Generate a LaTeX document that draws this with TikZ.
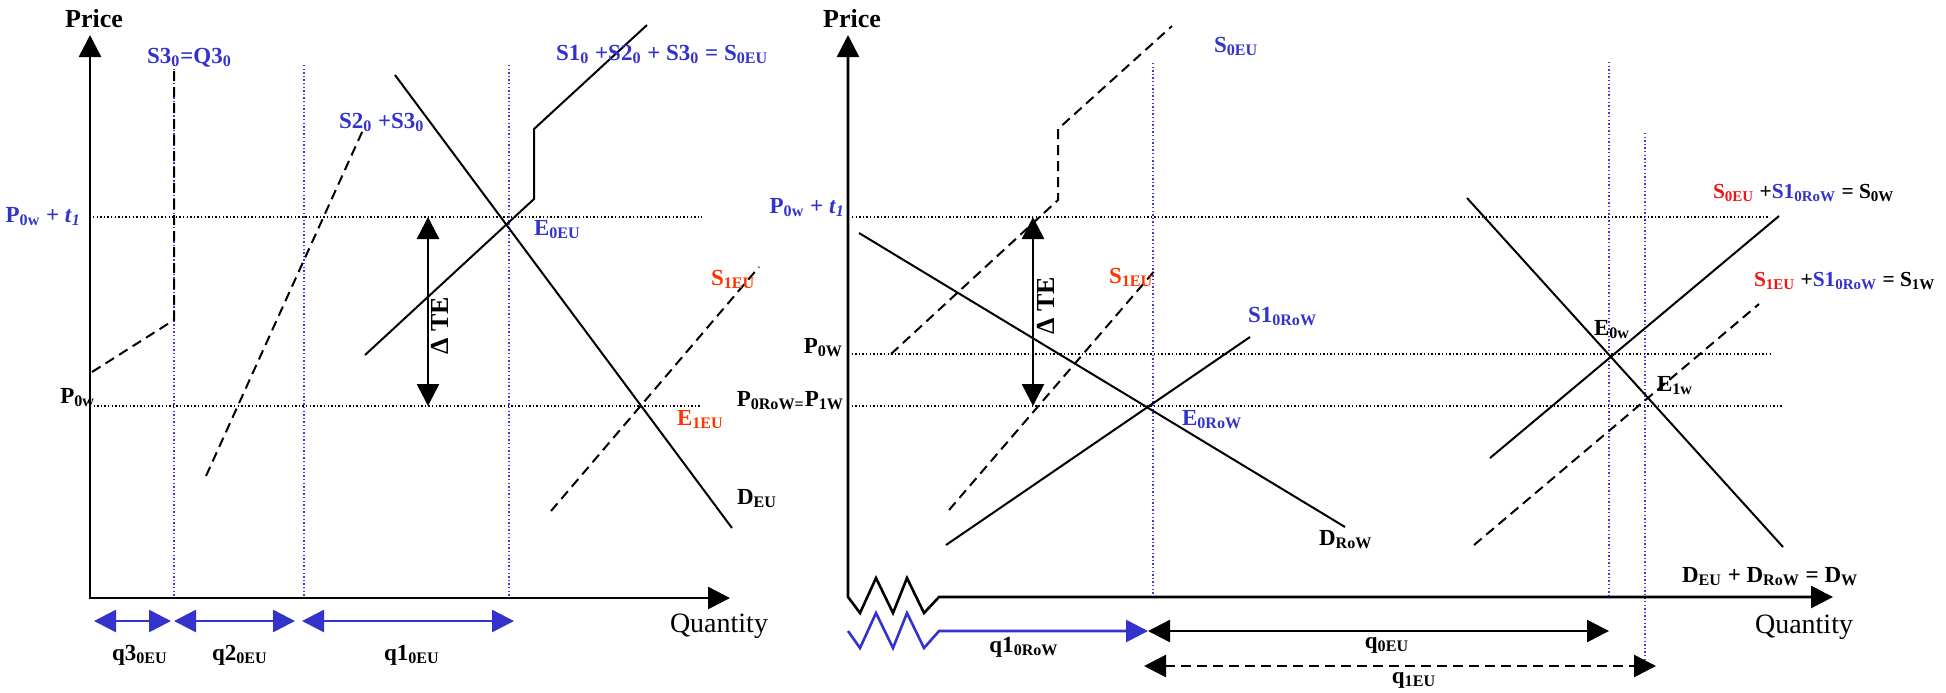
\documentclass[tikz,border=0pt]{standalone}
\usepackage{fontspec}
\setmainfont{Liberation Serif}
\usetikzlibrary{arrows.meta}
\definecolor{qblue}{RGB}{51,51,204}
\definecolor{tred}{RGB}{255,51,0}
\definecolor{wred}{RGB}{240,20,20}
\definecolor{vblue}{RGB}{60,60,235}
\newcommand{\lo}[1]{\textsubscript{#1}}
\begin{document}
\begin{tikzpicture}[x=0.5pt,y=-0.5pt,line width=1pt,
  >={Triangle[length=11pt,width=11pt]},
  lbl/.style={font=\fontsize{11.5}{13}\selectfont\bfseries,inner sep=0pt},
  sml/.style={font=\fontsize{10.7}{12}\selectfont\bfseries,inner sep=0pt},
  big/.style={font=\fontsize{13}{15}\selectfont\bfseries,inner sep=0pt},
  qty/.style={font=\fontsize{14}{16}\selectfont,inner sep=0pt},
  axis/.style={line width=1.3pt,<->},
  curve/.style={line width=1pt},
  dcurve/.style={line width=1pt,dash pattern=on 5pt off 3pt},
  pline/.style={line width=0.7pt,dash pattern=on 0.7pt off 1.1pt},
  qline/.style={vblue,line width=0.7pt,dash pattern=on 0.7pt off 1.1pt},
  qarrow/.style={qblue,line width=1.3pt,<->}]
  \useasboundingbox (0,0) rectangle (1946,692);

  % ---- left panel: EU market
  \coordinate (lo) at (90,598);
  \coordinate (ltop) at (90,35);
  \coordinate (lend) at (730,598);
  \foreach \x in {174,304,509} \draw[qline] (\x,65) -- (\x,598);
  \draw[pline] (93,217) -- (702,217);
  \draw[pline] (90,406) -- (701,406);
  \draw[axis] (ltop) -- (lo) -- (lend);
  \draw[dcurve] (92,372) -- (174,320) -- (174,67);
  \draw[dcurve] (206,476) -- (363,130);
  \draw[curve] (365,355) -- (534,199) -- (534,129) -- (647,25);
  \draw[curve] (395,75) -- (732,528);
  \draw[dcurve] (551,511) -- (759,267);
  \coordinate (teltop) at (428,217);
  \coordinate (telbot) at (428,406);
  \draw[line width=1.3pt,<->] (teltop) -- (telbot);
  \coordinate (q3a) at (94,621);  \coordinate (q3b) at (171,621);
  \coordinate (q2a) at (174,621); \coordinate (q2b) at (295,621);
  \coordinate (q1a) at (302,621); \coordinate (q1b) at (514,621);
  \draw[qarrow] (q3a) -- (q3b);
  \draw[qarrow] (q2a) -- (q2b);
  \draw[qarrow] (q1a) -- (q1b);

  \node[big,anchor=base] (lprice) at (94,27) {Price};
  \node[lbl,anchor=base east,text=qblue] (lptax) at (82,222) {P\lo{0w} + \textit{t}\lo{\textit{1}}};
  \node[lbl,anchor=base east] (lpw) at (96,403) {P\lo{0w}};
  \node[lbl,anchor=base west,text=qblue] (ls3) at (146,63) {S3\lo{0}=Q3\lo{0}};
  \node[lbl,anchor=base west,text=qblue] (ls23) at (338,128) {S2\lo{0} +S3\lo{0}};
  \node[lbl,anchor=base west,text=qblue] (ls0eu) at (555,60) {S1\lo{0} +S2\lo{0} + S3\lo{0} = S\lo{0EU}};
  \node[lbl,anchor=base west,text=qblue] (le0eu) at (533,235) {E\lo{0EU}};
  \node[lbl,anchor=base west,text=tred] (ls1eu) at (710,285) {S\lo{1EU}};
  \node[lbl,anchor=base west,text=tred] (le1eu) at (676,425) {E\lo{1EU}};
  \node[lbl,anchor=base west] (ldeu) at (736,504) {D\lo{EU}};
  \node[big,rotate=90] (ldte) at (440,326) {Δ TE};
  \node[lbl,anchor=base] (lq3) at (140,660) {q3\lo{0EU}};
  \node[lbl,anchor=base] (lq2) at (240,660) {q2\lo{0EU}};
  \node[lbl,anchor=base] (lq1) at (412,660) {q1\lo{0EU}};
  \node[qty,anchor=base] (lqty) at (719,632) {Quantity};

  % ---- right panel: world market
  \coordinate (ro) at (848,597);
  \coordinate (rtop) at (848,35);
  \coordinate (rend) at (1833,597);
  \draw[qline] (1153,63) -- (1153,597);
  \draw[qline] (1609,62) -- (1609,597);
  \draw[qline] (1645,133) -- (1645,667);
  \draw[pline] (852,217) -- (1770,217);
  \draw[pline] (848,354) -- (1770,354);
  \draw[pline] (848,406) -- (1782,406);
  \draw[axis] (rtop) -- (ro) -- (860,613) -- (876,578) -- (893,613) -- (907,578)
    -- (924,613) -- (939,597) -- (rend);
  \draw[dcurve] (891,354) -- (1058,200) -- (1058,129) -- (1172,26);
  \draw[dcurve] (949,510) -- (1157,268);
  \draw[curve] (859,233) -- (1345,527);
  \draw[curve] (946,545) -- (1250,337);
  \draw[curve] (1467,198) -- (1783,547);
  \draw[curve] (1490,458) -- (1779,216);
  \draw[dcurve] (1474,545) -- (1759,304);
  \coordinate (tertop) at (1033,217);
  \coordinate (terbot) at (1033,406);
  \draw[line width=1.3pt,<->] (tertop) -- (terbot);
  \coordinate (zq) at (848,631);
  \coordinate (q0a) at (1148,631);
  \coordinate (q0b) at (1609,631);
  \coordinate (q1ea) at (1144,666);
  \coordinate (q1eb) at (1656,666);
  \draw[qblue,line width=1.3pt,->] (zq) -- (860,648) -- (876,613) -- (893,648) -- (907,613)
    -- (924,648) -- (939,631) -- (q0a);
  \draw[line width=1.3pt,<->] (q0a) -- (q0b);
  \draw[line width=1.3pt,<->,dash pattern=on 5pt off 3pt] (q1ea) -- (q1eb);

  \node[big,anchor=base] (rprice) at (852,27) {Price};
  \node[lbl,anchor=base east,text=qblue] (rptax) at (846,213) {P\lo{0w} + \textit{t}\lo{\textit{1}}};
  \node[lbl,anchor=base east] (rpw) at (844,353) {P\lo{0W}};
  \node[lbl,anchor=base east] (rprow) at (845,406) {P\lo{0RoW=}P\lo{1W}};
  \node[lbl,anchor=base west,text=qblue] (rs0eu) at (1213,52) {S\lo{0EU}};
  \node[lbl,anchor=base west,text=tred] (rs1eu) at (1108,283) {S\lo{1EU}};
  \node[lbl,anchor=base west,text=qblue] (rs1row) at (1247,322) {S1\lo{0RoW}};
  \node[lbl,anchor=base west,text=qblue] (re0row) at (1181,425) {E\lo{0RoW}};
  \node[lbl,anchor=base west] (rdrow) at (1318,545) {D\lo{RoW}};
  \node[lbl,anchor=base west] (re0w) at (1593,335) {E\lo{0w}};
  \node[lbl,anchor=base west] (re1w) at (1656,391) {E\lo{1w}};
  \node[sml,anchor=base west] (rs0w) at (1712,198)
    {\textcolor{wred}{S\lo{0EU}} +\textcolor{qblue}{S1\lo{0RoW}} = S\lo{0W}};
  \node[sml,anchor=base west] (rs1w) at (1753,286)
    {\textcolor{wred}{S\lo{1EU}} +\textcolor{qblue}{S1\lo{0RoW}} = S\lo{1W}};
  \node[lbl,anchor=base west] (rdw) at (1681,582) {D\lo{EU} + D\lo{RoW} = D\lo{W}};
  \node[big,rotate=90] (rdte) at (1046,306) {Δ TE};
  \node[lbl,anchor=base] (rq1row) at (1024,652) {q1\lo{0RoW}};
  \node[lbl,anchor=base] (rq0eu) at (1387,648) {q\lo{0EU}};
  \node[lbl,anchor=base] (rq1eu) at (1414,683) {q\lo{1EU}};
  \node[qty,anchor=base] (rqty) at (1804,633) {Quantity};
\end{tikzpicture}
\end{document}
